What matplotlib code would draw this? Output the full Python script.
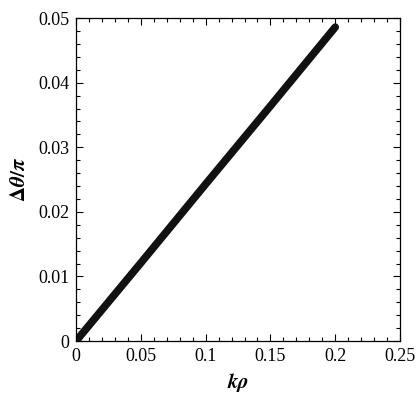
import numpy as np
import matplotlib.pyplot as plt
from matplotlib.ticker import MultipleLocator

# data
k_rho = [0.0, 0.05, 0.1, 0.15, 0.2]
dtheta_over_pi = [0.0, 0.0121, 0.0243, 0.0364, 0.0486]

xticks = [0, 0.05, 0.1, 0.15, 0.2, 0.25]
xtick_labels = ['0', '0.05', '0.1', '0.15', '0.2', '0.25']
yticks = [0, 0.01, 0.02, 0.03, 0.04, 0.05]
ytick_labels = ['0', '0.01', '0.02', '0.03', '0.04', '0.05']

plt.rcParams['font.family'] = ['Liberation Serif', 'DejaVu Serif']
plt.rcParams['mathtext.fontset'] = 'stix'

fig = plt.figure(figsize=(4.18, 3.94), dpi=100)
ax = fig.add_axes([0.182, 0.1345, 0.775, 0.8195])

ax.plot(k_rho, dtheta_over_pi, color='#111111', lw=5.5, solid_capstyle='round')

ax.set_xlim(0, 0.25)
ax.set_ylim(0, 0.05)
ax.set_xticks(xticks)
ax.set_xticklabels(xtick_labels)
ax.set_yticks(yticks)
ax.set_yticklabels(ytick_labels)
ax.xaxis.set_minor_locator(MultipleLocator(0.01))
ax.yaxis.set_minor_locator(MultipleLocator(0.002))
ax.tick_params(which='both', direction='in', top=True, right=True, labelsize=13, width=0.8)
ax.tick_params(which='major', length=5, pad=5)
ax.tick_params(which='minor', length=3)
for s in ax.spines.values():
    s.set_linewidth(0.9)

ax.set_xlabel(r'$\boldsymbol{k\rho}$', fontsize=15, labelpad=4)
ax.set_ylabel(r'$\boldsymbol{\Delta\theta/\pi}$', fontsize=15, labelpad=6)

fig.savefig('out.png', dpi=100)
